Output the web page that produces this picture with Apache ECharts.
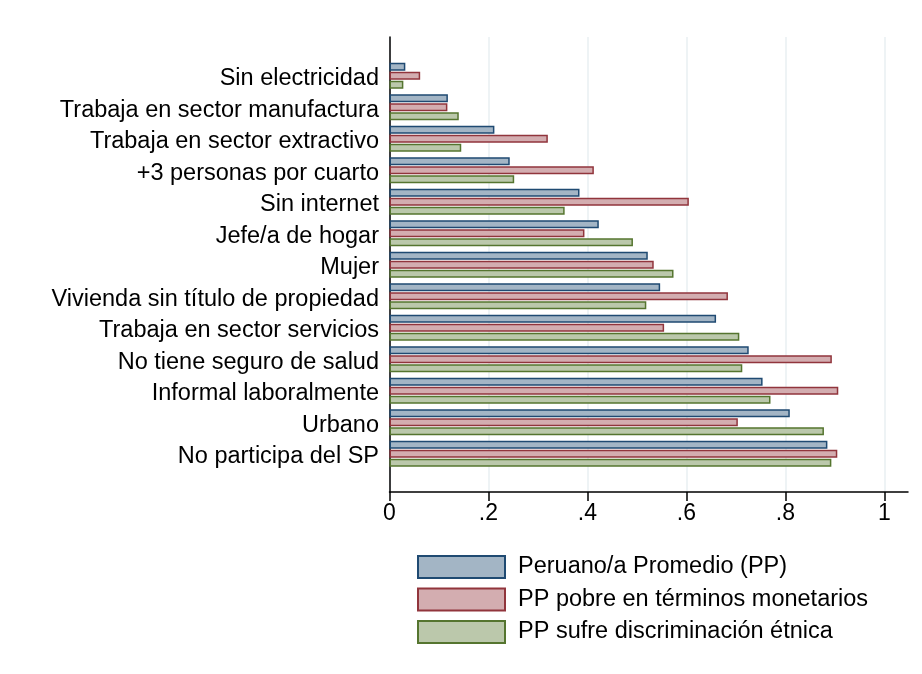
<!DOCTYPE html>
<html>
<head>
<meta charset="utf-8">
<script src="https://cdn.jsdelivr.net/npm/echarts@6/dist/echarts.min.js"></script>
<style>
html,body{margin:0;padding:0;background:#fff;}
#chart{width:922px;height:674px;}
</style>
</head>
<body>
<div id="chart"></div>
<script>
var categories = ["Sin electricidad", "Trabaja en sector manufactura", "Trabaja en sector extractivo", "+3 personas por cuarto", "Sin internet", "Jefe/a de hogar", "Mujer", "Vivienda sin título de propiedad", "Trabaja en sector servicios", "No tiene seguro de salud", "Informal laboralmente", "Urbano", "No participa del SP"];
var seriesNames = ["Peruano/a Promedio (PP)", "PP pobre en términos monetarios", "PP sufre discriminación étnica"];
var ppPromedio = [0.032, 0.118, 0.212, 0.243, 0.384, 0.423, 0.522, 0.547, 0.660, 0.726, 0.754, 0.809, 0.885];
var ppPobre = [0.062, 0.117, 0.320, 0.413, 0.605, 0.394, 0.534, 0.684, 0.555, 0.894, 0.907, 0.704, 0.905];
var ppEtnica = [0.028, 0.140, 0.145, 0.252, 0.354, 0.492, 0.574, 0.519, 0.707, 0.713, 0.770, 0.878, 0.893];
var xTicks = [0, 0.2, 0.4, 0.6, 0.8, 1];

var font = '"Liberation Sans", Arial, sans-serif';
var fills = ['#a3b5c5', '#d3adb0', '#bbc8ab'];
var borders = ['#1f4a72', '#91353c', '#55752f'];
var values = [ppPromedio, ppPobre, ppEtnica];

var chart = echarts.init(document.getElementById('chart'), null, {renderer: 'canvas'});

var L = 389.5, W = 494.8;

var option = {
  backgroundColor: '#ffffff',
  animation: false,
  grid: [
    {left: L, width: W, top: 37, height: 455, containLabel: false},
    {left: L, right: 14, top: 37, height: 455, containLabel: false},
    {left: L, width: W, top: 60, height: 409.5, containLabel: false}
  ],
  xAxis: [
    {
      gridIndex: 0, type: 'value', min: xTicks[0], max: xTicks[xTicks.length - 1], interval: 0.2,
      axisLine: {show: false},
      axisTick: {show: true, length: 9, lineStyle: {color: '#000', width: 1.5}},
      axisLabel: {
        color: '#000', fontFamily: font, fontSize: 23, margin: 10,
        formatter: function (v) {
          var s = (Math.round(v * 10) / 10).toString();
          return s.replace(/^0\./, '.');
        }
      },
      splitLine: {show: true, lineStyle: {color: '#e8eff2', width: 1.5}}
    },
    {
      gridIndex: 1, type: 'value', min: 0, max: 1,
      axisLine: {show: true, lineStyle: {color: '#000', width: 1.5}},
      axisTick: {show: false}, axisLabel: {show: false}, splitLine: {show: false}
    },
    {
      gridIndex: 2, type: 'value', min: 0, max: 1, show: false
    }
  ],
  yAxis: [
    {
      gridIndex: 0, type: 'value', min: 0, max: 1,
      axisLine: {show: true, lineStyle: {color: '#000', width: 1.5}},
      axisTick: {show: false}, axisLabel: {show: false}, splitLine: {show: false}
    },
    {
      gridIndex: 1, type: 'value', min: 0, max: 1, show: false
    },
    {
      gridIndex: 2, type: 'category', data: categories, inverse: true,
      axisLine: {show: false}, axisTick: {show: false}, splitLine: {show: false},
      axisLabel: {color: '#000', fontFamily: font, fontSize: 23.5, margin: 10.5, verticalAlign: 'top', lineHeight: 6}
    }
  ],
  legend: {
    orient: 'vertical', left: 412, top: 550,
    itemWidth: 87, itemHeight: 22, itemGap: 8.5,
    icon: 'rect',
    data: seriesNames,
    textStyle: {color: '#000', fontFamily: font, fontSize: 23.5, padding: [0, 0, 0, 8]}
  },
  series: values.map(function (vals, i) {
    return {
      name: seriesNames[i], type: 'bar', xAxisIndex: 2, yAxisIndex: 2,
      data: vals, barWidth: 8, barGap: '12%',
      itemStyle: {color: fills[i], borderColor: borders[i], borderWidth: 1.5}
    };
  })
};
chart.setOption(option);
</script>
</body>
</html>
